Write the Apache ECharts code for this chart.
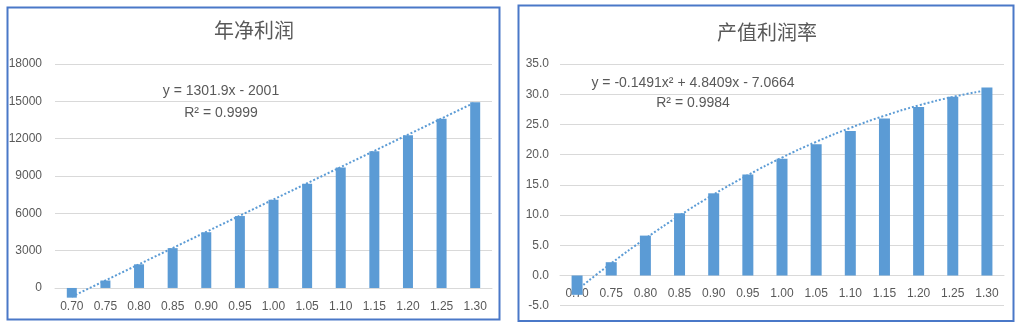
<!DOCTYPE html>
<html>
<head>
<meta charset="utf-8">
<script src="https://cdn.jsdelivr.net/npm/echarts@6/dist/echarts.min.js"></script>
<style>
  html, body { margin: 0; padding: 0; background: #fff; }
  #c { width: 1022px; height: 327px; }
</style>
</head>
<body>
<div id="c"></div>
<script>
// Output multiplier categories shared by both panels
const categories = ['0.70', '0.75', '0.80', '0.85', '0.90', '0.95', '1.00', '1.05', '1.10', '1.15', '1.20', '1.25', '1.30'];

// 年净利润 (annual net profit)
const netProfit = [-780, 600, 1900, 3200, 4480, 5780, 7080, 8380, 9680, 10980, 12270, 13600, 14930];
// 产值利润率 (profit margin on output value, %)
const profitRate = [-3.2, 2.2, 6.6, 10.3, 13.6, 16.7, 19.3, 21.7, 23.9, 26.0, 27.9, 29.6, 31.1];

// Trendline coefficients, highest power first (x = 1..13 is the category number)
const linearFit = [1301.9, -2001];
const quadFit = [-0.1491, 4.8409, -7.0664];
const linearLabel = ['y = 1301.9x - 2001', 'R² = 0.9999'];
const quadLabel = ['y = -0.1491x² + 4.8409x - 7.0664', 'R² = 0.9984'];

const titles = ['年净利润', '产值利润率'];

function evalPoly(coef, x) {
  return coef.reduce((acc, c) => acc * x + c, 0);
}
const linearTrend = categories.map((_, i) => +evalPoly(linearFit, i + 1).toFixed(2));
const quadTrend = categories.map((_, i) => +evalPoly(quadFit, i + 1).toFixed(3));

const BAR = '#5b9bd5';
const GRID_LINE = '#d9d9d9';
const TEXT = '#595959';
const FONT = '"Liberation Sans", Arial, sans-serif';
const CJK = '"Noto Sans CJK SC", sans-serif';
const FRAME = '#4a78c8';

const chart = echarts.init(document.getElementById('c'), null, { renderer: 'canvas' });

function textEl(x, y, text, font, color) {
  return {
    type: 'text', x: x, y: y, z: 10,
    style: {
      text: text, font: font, fill: color,
      align: 'center', verticalAlign: 'middle',
      textAlign: 'center', textVerticalAlign: 'middle'
    }
  };
}

// Category axes sit on the zero line: offset lifts them from the grid bottom
const xOffsets = [-12.4, -30.4];

const option = {
  backgroundColor: '#fff',
  animation: false,
  grid: [
    { left: 55, right: 530, top: 64, bottom: 26.6 },
    { left: 560, right: 18, top: 64, bottom: 21.3 }
  ],
  xAxis: [0, 1].map(g => ({
    type: 'category',
    gridIndex: g,
    data: categories,
    position: 'bottom',
    offset: xOffsets[g],
    axisLine: { show: true, onZero: false, lineStyle: { color: GRID_LINE, width: 1 } },
    axisTick: { show: false },
    axisLabel: { color: TEXT, fontFamily: FONT, fontSize: 12, margin: g === 0 ? 13 : 12, interval: 0 },
    splitLine: { show: false }
  })),
  yAxis: [
    {
      type: 'value', gridIndex: 0,
      min: -1000, max: 18000, interval: 1000,
      axisLine: { show: false }, axisTick: { show: false },
      axisLabel: {
        color: TEXT, fontFamily: FONT, fontSize: 12, margin: 13,
        formatter: v => (v >= 0 && v % 3000 === 0) ? String(v) : ''
      },
      splitLine: {
        show: true,
        lineStyle: { color: ['rgba(0,0,0,0)', GRID_LINE, 'rgba(0,0,0,0)'], width: 1 }
      }
    },
    {
      type: 'value', gridIndex: 1,
      min: -5, max: 35, interval: 5,
      axisLine: { show: false }, axisTick: { show: false },
      axisLabel: {
        color: TEXT, fontFamily: FONT, fontSize: 12, margin: 11,
        formatter: v => v.toFixed(1)
      },
      splitLine: { show: true, lineStyle: { color: GRID_LINE, width: 1 } }
    }
  ],
  series: [
    {
      type: 'bar', xAxisIndex: 0, yAxisIndex: 0,
      data: netProfit, barWidth: 10,
      itemStyle: { color: BAR }, z: 3
    },
    {
      type: 'line', xAxisIndex: 0, yAxisIndex: 0,
      data: linearTrend, symbol: 'none',
      lineStyle: { color: BAR, width: 2, type: [2, 2] }, z: 4
    },
    {
      type: 'bar', xAxisIndex: 1, yAxisIndex: 1,
      data: profitRate, barWidth: 11,
      itemStyle: { color: BAR }, z: 3
    },
    {
      type: 'line', xAxisIndex: 1, yAxisIndex: 1,
      data: quadTrend, symbol: 'none', smooth: true,
      lineStyle: { color: BAR, width: 2, type: [2, 2] }, z: 4
    }
  ],
  graphic: [
    {
      type: 'rect', shape: { x: 7.5, y: 7.5, width: 492, height: 312 },
      style: { fill: 'none', stroke: FRAME, lineWidth: 2 }, z: 10
    },
    {
      type: 'rect', shape: { x: 518.5, y: 5.5, width: 495, height: 315.5 },
      style: { fill: 'none', stroke: FRAME, lineWidth: 2 }, z: 10
    },
    textEl(254, 30, titles[0], '20px ' + CJK, TEXT),
    textEl(767, 32, titles[1], '20px ' + CJK, TEXT),
    textEl(221, 91, linearLabel[0], '14px ' + FONT, TEXT),
    textEl(221, 113, linearLabel[1], '14px ' + FONT, TEXT),
    textEl(693, 83, quadLabel[0], '14px ' + FONT, TEXT),
    textEl(693, 103, quadLabel[1], '14px ' + FONT, TEXT)
  ]
};

chart.setOption(option);
</script>
</body>
</html>
